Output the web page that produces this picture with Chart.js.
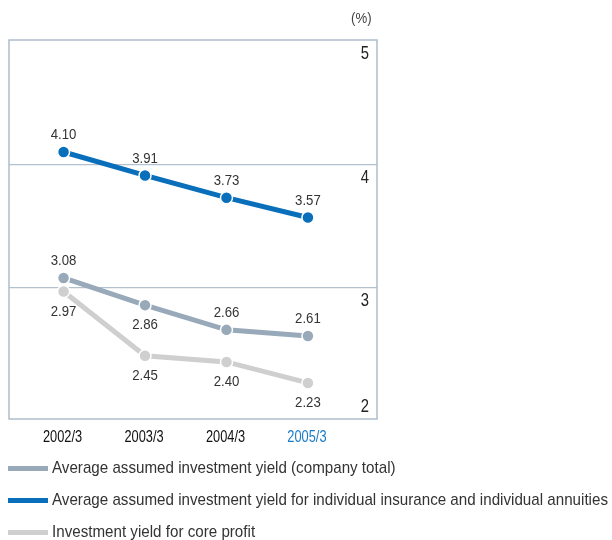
<!DOCTYPE html>
<html>
<head>
<meta charset="utf-8">
<script src="https://cdn.jsdelivr.net/npm/chart.js@4/dist/chart.umd.min.js"></script>
<style>
  body { margin: 0; background: #fff; }
  #wrap { position: relative; width: 612px; height: 540px; font-family: "Liberation Sans", Arial, sans-serif; }
  #unit { position: absolute; left: 351px; top: 9px; font-size: 15px; color: #444; transform: scaleX(0.88); transform-origin: left top; }
  #legend { position: absolute; left: 8px; top: 452px; }
  .row { display: flex; align-items: center; height: 32px; font-size: 17px; color: #333; white-space: nowrap; }
  .sw { width: 40px; height: 5px; margin-right: 4px; flex: none; }
  .txt { display: inline-block; transform-origin: left center; }
</style>
</head>
<body>
<div id="wrap">
  <canvas id="chart" width="612" height="540"></canvas>
  <div id="unit">(%)</div>
  <div id="legend"></div>
</div>
<script>
const categories = ["2002/3", "2003/3", "2004/3", "2005/3"];
const companyTotal = [3.08, 2.86, 2.66, 2.61];
const individualYield = [4.10, 3.91, 3.73, 3.57];
const coreProfitYield = [2.97, 2.45, 2.40, 2.23];
const yTicks = [2, 3, 4, 5];
const seriesNames = [
  "Average assumed investment yield (company total)",
  "Average assumed investment yield for individual insurance and individual annuities",
  "Investment yield for core profit"
];
const seriesColors = ["#98a9b9", "#0a6fbb", "#cfcfcf"];
// where each value label sits relative to its point
const labelSides = [
  ["above", "below", "above", "above"],
  ["above", "above", "above", "above"],
  ["below", "below", "below", "below"]
];

const fontFamily = '"Liberation Sans", Arial, sans-serif';
const allSeries = [companyTotal, individualYield, coreProfitYield];

const datasets = allSeries.map((values, i) => ({
  label: seriesNames[i],
  data: values.map((v, j) => ({ x: j, y: v })),
  borderColor: seriesColors[i],
  backgroundColor: seriesColors[i],
  borderWidth: 5,
  pointRadius: 6,
  pointBorderColor: "#fff",
  pointBorderWidth: 1.5,
  pointHoverRadius: 6,
  order: i === 2 ? 3 : i
}));

// narrow text: the original uses a condensed face
function narrowText(ctx, text, x, y, sx) {
  ctx.save();
  ctx.translate(x, y);
  ctx.scale(sx, 1);
  ctx.fillText(text, 0, 0);
  ctx.restore();
}

const boxAndLabels = {
  id: "boxAndLabels",
  afterDatasetsDraw(chart) {
    const ctx = chart.ctx;
    const area = chart.chartArea;
    const x = chart.scales.x;
    const y = chart.scales.y;
    ctx.save();
    ctx.strokeStyle = "#aebdcb";
    ctx.lineWidth = 1.5;
    ctx.strokeRect(area.left, area.top, area.right - area.left, area.bottom - area.top);

    // y tick labels inside the box, right side
    ctx.fillStyle = "#222";
    ctx.font = "19px " + fontFamily;
    ctx.textAlign = "right";
    ctx.textBaseline = "middle";
    yTicks.forEach((t) => {
      let py = y.getPixelForValue(t) + 13;
      if (py > area.bottom - 12) py = area.bottom - 12;
      narrowText(ctx, String(t), area.right - 8, py, 0.78);
    });

    // category labels under the box
    ctx.font = "16px " + fontFamily;
    ctx.textAlign = "center";
    categories.forEach((c, i) => {
      ctx.fillStyle = i === 3 ? "#1a7cc6" : "#111";
      narrowText(ctx, c, x.getPixelForValue(i) - 1, area.bottom + 19, 0.8);
    });

    // value labels
    ctx.fillStyle = "#333";
    ctx.font = "15px " + fontFamily;
    chart.data.datasets.forEach((ds, i) => {
      const meta = chart.getDatasetMeta(i);
      meta.data.forEach((pt, j) => {
        const off = labelSides[i][j] === "above" ? -17 : 20;
        narrowText(ctx, allSeries[i][j].toFixed(2), pt.x, pt.y + off, 0.88);
      });
    });
    ctx.restore();
  }
};

new Chart(document.getElementById("chart"), {
  type: "line",
  data: { datasets: datasets },
  options: {
    responsive: false,
    animation: false,
    layout: { padding: { left: 9, top: 40, right: 235, bottom: 0 } },
    plugins: { legend: { display: false }, tooltip: { enabled: false } },
    scales: {
      x: {
        type: "linear",
        min: -0.67,
        max: 3.848,
        afterBuildTicks: (scale) => {
          scale.ticks = categories.map((c, i) => ({ value: i }));
        },
        afterFit: (scale) => { scale.height = 121; },
        grid: { display: false, drawTicks: false },
        border: { display: false },
        ticks: { display: false }
      },
      y: {
        position: "right",
        min: 1.938,
        max: 5.007,
        afterBuildTicks: (scale) => {
          scale.ticks = yTicks.map((t) => ({ value: t }));
        },
        afterFit: (scale) => { scale.width = 0; },
        grid: {
          color: (c) => (c.tick && (c.tick.value === 3 || c.tick.value === 4) ? "#b3c1ce" : "rgba(0,0,0,0)"),
          lineWidth: 1.3,
          drawTicks: false
        },
        border: { display: false },
        ticks: { display: false }
      }
    }
  },
  plugins: [boxAndLabels]
});

const legend = document.getElementById("legend");
const spans = seriesNames.map((name, i) => {
  const row = document.createElement("div");
  row.className = "row";
  row.innerHTML = '<span class="sw" style="background:' + seriesColors[i] + '"></span><span class="txt">' + name + "</span>";
  legend.appendChild(row);
  return row.querySelector(".txt");
});
// squeeze so the longest line ends near the right edge, like the original
const longest = Math.max(...spans.map((s) => s.getBoundingClientRect().width));
const sx = Math.min(1, 556 / longest);
spans.forEach((s) => { s.style.transform = "scaleX(" + sx + ")"; });
</script>
</body>
</html>
